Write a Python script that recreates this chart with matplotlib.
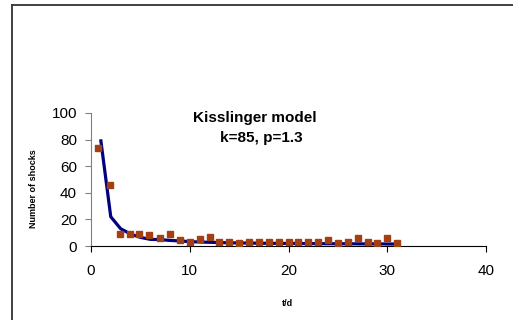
import matplotlib
matplotlib.use('Agg')
import matplotlib.pyplot as plt
from matplotlib.lines import Line2D

plt.rcParams['font.family'] = ['Liberation Sans', 'DejaVu Sans']

# observed shocks per day
t_obs = [0.7, 1.9, 2.9, 3.9, 4.9, 5.9, 7, 8, 9, 10, 11, 12, 13, 14, 15, 16,
         17, 18, 19, 20, 21, 22, 23, 24, 25, 26, 27, 28, 29, 30, 31]
n_obs = [74, 46, 9, 9, 9, 8, 6, 9, 4.5, 3, 5.5, 7, 3, 3, 2, 3,
         3, 3, 3, 3, 3, 3, 3, 4.5, 2, 3, 5.7, 3, 2, 5.7, 2]

# Kisslinger model curve
t_mod = list(range(1, 32))
n_mod = [79, 22, 13, 9, 6.5, 5, 4.8, 4.2, 3.8, 3.3, 3, 2.8, 2.6, 2.4, 2.3, 2.2,
         2.1, 2, 2, 1.9, 1.9, 1.8, 1.8, 1.7, 1.7, 1.7, 1.6, 1.6, 1.6, 1.5, 1.5]

fig = plt.figure(figsize=(5.13, 3.2), dpi=100)
ax = fig.add_axes([0.1774, 0.23125, 0.77, 0.41575])

ax.plot(t_mod, n_mod, color='#000080', lw=2.3, zorder=2)
ax.plot(t_obs, n_obs, 's', color='#A33F10', ms=5, mec='#A33F10', zorder=3)

ax.set_xlim(0, 40)
ax.set_ylim(0, 100)
ax.set_xticks([0, 10, 20, 30, 40])
ax.set_yticks([0, 20, 40, 60, 80, 100])
ax.spines['top'].set_visible(False)
ax.spines['right'].set_visible(False)
ax.spines['left'].set_color('#808080')
ax.spines['bottom'].set_color('black')
ax.tick_params(axis='y', direction='out', length=4, labelsize=11, pad=6, color='#808080')
ax.tick_params(axis='x', direction='out', length=4, labelsize=11, pad=9)

ax.set_ylabel('Number of shocks', fontsize=6.5, fontweight='bold')
ax.yaxis.set_label_coords(-0.135, 0.43)
ax.set_xlabel('t/d', fontsize=6.5, fontweight='bold')
ax.xaxis.set_label_coords(0.496, -0.40)

ax.text(0.415, 0.965, 'Kisslinger model', transform=ax.transAxes, ha='center',
        va='center', fontsize=11, fontweight='bold')
ax.text(0.43, 0.81, 'k=85, p=1.3', transform=ax.transAxes, ha='center',
        va='center', fontsize=11, fontweight='bold')

# outer chart frame (left and top edges)
fig.add_artist(Line2D([12/513, 12/513], [0, 1 - 5/320], color='#333333', lw=1.3))
fig.add_artist(Line2D([12/513, 1], [1 - 5/320, 1 - 5/320], color='#333333', lw=1.3))

plt.savefig('out.png', dpi=100)
